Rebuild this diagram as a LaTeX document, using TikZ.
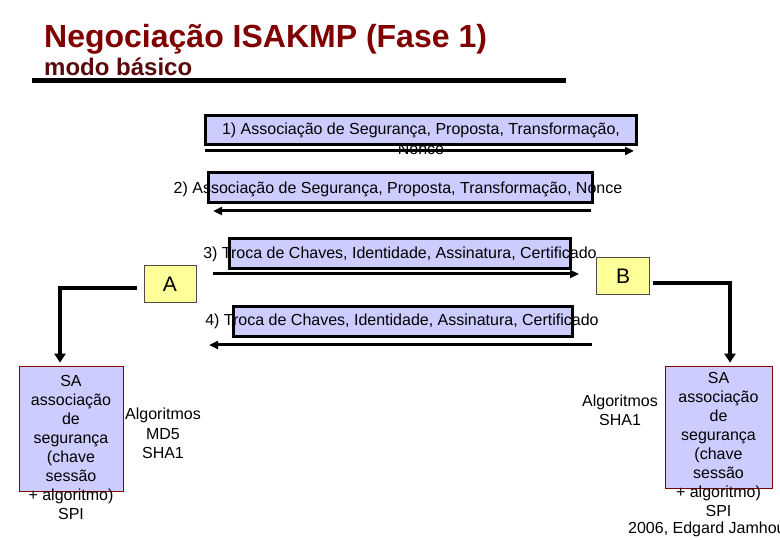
\documentclass[tikz,border=0pt]{standalone}
\usepackage{fontspec}
\setmainfont{Liberation Sans}
\usetikzlibrary{arrows.meta,calc}
\definecolor{lav}{HTML}{CCCCFF}
\definecolor{ylw}{HTML}{FFFF99}
\definecolor{titred}{HTML}{800000}
\definecolor{subred}{HTML}{5A0A0A}
\begin{document}
\begin{tikzpicture}[x=1pt,y=-1pt,
  msgbox/.style={draw=black, line width=3pt, fill=lav, inner sep=0pt},
  msgtext/.style={inner sep=0pt, anchor=base, font=\fontsize{16}{19}\selectfont},
  msgarrow/.style={line width=3pt, -{Triangle[length=9pt,width=8pt]}},
  peer/.style={draw=black!70, line width=0.6pt, fill=ylw, inner sep=0pt, font=\fontsize{21}{25}\selectfont},
  sabox/.style={draw=titred, line width=0.7pt, fill=lav, inner sep=0pt},
  satext/.style={inner sep=0pt, anchor=north, align=center, font=\fontsize{16}{19}\selectfont},
  conn/.style={line width=4pt, -{Triangle[length=9pt,width=11pt]}},
  plain/.style={inner sep=0pt, align=center}]
\useasboundingbox[fill=white] (0,0) rectangle (780,540);

% title
\node[inner sep=0pt, anchor=base west, text=titred, font=\fontsize{32}{38}\selectfont\bfseries] (title) at (44,48) {Negociação ISAKMP (Fase 1)};
\node[inner sep=0pt, anchor=base west, text=subred, font=\fontsize{24}{28}\selectfont\bfseries] (subtitle) at (44,76) {modo básico};
\coordinate (rulel) at (32,80.5);
\coordinate (ruler) at (566,80.5);
\draw[line width=5pt] (rulel) -- (ruler);

% message 1
\node[msgbox, minimum width=431, minimum height=29] (b1) at (420.5,130.5) {};
\node[msgtext] (t1) at (421,135) {1) Associação de Segurança, Proposta, Transformação,};
\node[msgtext] (t1b) at (421,155) {Nonce};
\coordinate (a1s) at (205,151);
\coordinate (a1e) at (634,151);
\draw[msgarrow] (a1s) -- (a1e);

% message 2
\node[msgbox, minimum width=384, minimum height=30] (b2) at (400,188) {};
\node[msgtext] (t2) at (398,194) {2) Associação de Segurança, Proposta, Transformação, Nonce};
\coordinate (a2s) at (591,211);
\coordinate (a2e) at (213,211);
\draw[msgarrow] (a2s) -- (a2e);

% message 3
\node[msgbox, minimum width=341, minimum height=30] (b3) at (399.5,254) {};
\node[msgtext] (t3) at (400,259) {3) Troca de Chaves, Identidade, Assinatura, Certificado};
\coordinate (a3s) at (213,274);
\coordinate (a3e) at (579,274);
\draw[msgarrow] (a3s) -- (a3e);

% message 4
\node[msgbox, minimum width=339, minimum height=30] (b4) at (402.5,322) {};
\node[msgtext] (t4) at (402,326) {4) Troca de Chaves, Identidade, Assinatura, Certificado};
\coordinate (a4s) at (592,345);
\coordinate (a4e) at (209,345);
\draw[msgarrow] (a4s) -- (a4e);

% peers
\node[peer, minimum width=52, minimum height=37] (A) at (170,284) {A};
\node[peer, minimum width=53, minimum height=37] (B) at (623,276) {B};

% SA boxes
\node[sabox, minimum width=104, minimum height=125] (saL) at (71,428.5) {};
\node[satext] (saLt) at (71,375) {SA\\associação\\de\\segurança\\(chave\\sessão\\+ algoritmo)\\SPI};
\node[sabox, minimum width=107, minimum height=122] (saR) at (718.5,427) {};
\node[satext] (saRt) at (718.5,372) {SA\\associação\\de\\segurança\\(chave\\sessão\\+ algoritmo)\\SPI};

% connectors
\draw[conn] ([xshift=-7pt,yshift=-4pt]A.west) -| ([xshift=-11pt,yshift=3pt]saL.north);
\draw[conn] ([xshift=3.5pt,yshift=-7pt]B.east) -| ([xshift=11.5pt,yshift=3pt]saR.north);

% algorithms
\node[satext, font=\fontsize{16}{19.5}\selectfont] (algL) at (163,408) {Algoritmos\\MD5\\SHA1};
\node[satext] (algR) at (620,395) {Algoritmos\\SHA1};

% footer
\node[inner sep=0pt, anchor=base west, font=\fontsize{16}{19}\selectfont] (foot) at (628,533) {2006, Edgard Jamhour};
\end{tikzpicture}
\end{document}
